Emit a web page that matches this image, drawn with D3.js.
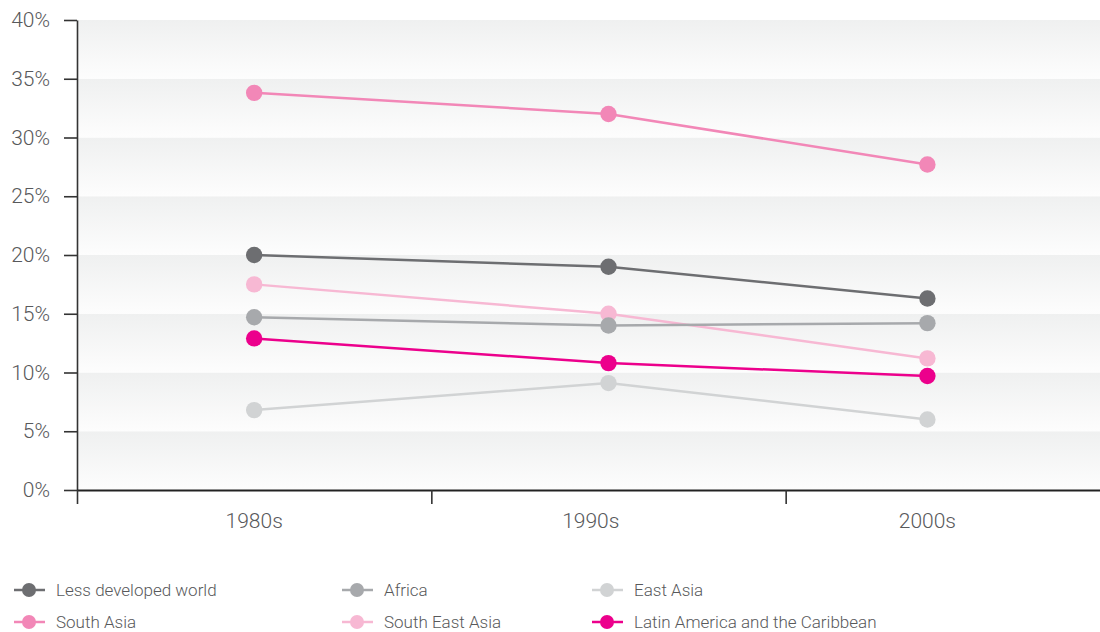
<!DOCTYPE html>
<html>
<head>
<meta charset="utf-8">
<script src="https://cdn.jsdelivr.net/npm/d3@7"></script>
<style>
  html, body { margin: 0; padding: 0; background: #fff; }
  svg { display: block; font-family: Roboto, "Liberation Sans", sans-serif; }
  .lbl { fill: #58595b; font-weight: 300; }
</style>
</head>
<body>
<svg id="chart" width="1100" height="632"></svg>
<script>
// Decades shown on the horizontal axis
const categories = ["1980s", "1990s", "2000s"];
// Year each decade's observation sits at, and where its label is centred
const decadeYear = [1985, 1995, 2004];
const labelYear = [1985, 1994.5, 2004];
// Boundary ticks between decades
const decadeTicks = [1980, 1990, 2000];
// Percentage ticks on the vertical axis
const yTicks = [0, 5, 10, 15, 20, 25, 30, 35, 40];

// Series names, colours and values (percent)
const seriesNames = ["Less developed world", "Africa", "East Asia", "South Asia", "South East Asia", "Latin America and the Caribbean"];
const seriesColors = ["#6d6e71", "#a7a9ac", "#d1d3d4", "#f287b7", "#f7b8d3", "#ec008c"];
const lessDeveloped = [20.0, 19.0, 16.3];
const africa = [14.7, 14.0, 14.2];
const eastAsia = [6.8, 9.1, 6.0];
const southAsia = [33.8, 32.0, 27.7];
const southEastAsia = [17.5, 15.0, 11.2];
const latinAmerica = [12.9, 10.8, 9.7];
const seriesValues = [lessDeveloped, africa, eastAsia, southAsia, southEastAsia, latinAmerica];
// Painting order, back to front
const drawOrder = [3, 4, 0, 1, 2, 5];

(function () {
  const svg = d3.select("#chart");
  const W = 1100;
  const plotLeft = 77, plotTop = 20, plotBottom = 490;

  const x = d3.scaleLinear().domain([1980, 2010]).range([plotLeft, 1140]);
  const y = d3.scaleLinear().domain([0, 40]).range([plotBottom, plotTop]);

  // Banded background: each 5% band fades from grey to near white
  const defs = svg.append("defs");
  const grad = defs.append("linearGradient").attr("id", "band")
    .attr("x1", 0).attr("y1", 0).attr("x2", 0).attr("y2", 1);
  grad.append("stop").attr("offset", "0%").attr("stop-color", "#eff0f0");
  grad.append("stop").attr("offset", "100%").attr("stop-color", "#fdfdfd");

  svg.append("g").selectAll("rect")
    .data(yTicks.slice(1))
    .join("rect")
    .attr("x", plotLeft)
    .attr("width", W - plotLeft)
    .attr("y", d => y(d))
    .attr("height", d => y(d - 5) - y(d))
    .attr("fill", "url(#band)");

  // Vertical axis
  const yAxis = svg.append("g")
    .attr("transform", `translate(${plotLeft},0)`)
    .call(d3.axisLeft(y).tickValues(yTicks).tickSize(13).tickSizeOuter(0).tickFormat(d => d + "%"));
  yAxis.select(".domain").attr("stroke", "#333").attr("stroke-width", 1.6);
  yAxis.selectAll(".tick line").attr("stroke", "#333").attr("stroke-width", 1.6);
  yAxis.selectAll(".tick text")
    .attr("class", "lbl")
    .attr("x", -27)
    .attr("font-size", 21);
  yAxis.attr("font-family", null).attr("font-size", null);

  // Horizontal axis
  const xAxis = svg.append("g")
    .attr("transform", `translate(0,${plotBottom})`)
    .call(d3.axisBottom(x).tickValues(decadeTicks).tickSize(14).tickSizeOuter(0).tickFormat(""));
  xAxis.select(".domain").attr("stroke", "#222").attr("stroke-width", 2);
  xAxis.selectAll(".tick line").attr("stroke", "#333").attr("stroke-width", 1.6);

  svg.append("g").selectAll("text")
    .data(categories)
    .join("text")
    .attr("class", "lbl")
    .attr("x", (d, i) => x(labelYear[i]))
    .attr("y", 528)
    .attr("text-anchor", "middle")
    .attr("font-size", 21)
    .text(d => d);

  // Series lines and markers
  const line = d3.line()
    .x((d, i) => x(decadeYear[i]))
    .y(d => y(d));

  const seriesG = svg.append("g");
  drawOrder.forEach(s => {
    const g = seriesG.append("g");
    g.append("path")
      .attr("d", line(seriesValues[s]))
      .attr("fill", "none")
      .attr("stroke", seriesColors[s])
      .attr("stroke-width", 2.5);
    g.selectAll("circle")
      .data(seriesValues[s])
      .join("circle")
      .attr("cx", (d, i) => x(decadeYear[i]))
      .attr("cy", d => y(d))
      .attr("r", 8.2)
      .attr("fill", seriesColors[s]);
  });

  // Legend: three columns, two rows
  const legendCols = [14, 342, 592];
  const legendRows = [590, 622];
  const legend = svg.append("g").selectAll("g")
    .data(seriesNames)
    .join("g")
    .attr("transform", (d, i) => `translate(${legendCols[i % 3]},${legendRows[Math.floor(i / 3)]})`);
  legend.append("line")
    .attr("x1", 0).attr("x2", 31)
    .attr("stroke", (d, i) => seriesColors[i])
    .attr("stroke-width", 2.5);
  legend.append("circle")
    .attr("cx", 15).attr("r", 7)
    .attr("fill", (d, i) => seriesColors[i]);
  legend.append("text")
    .attr("class", "lbl")
    .attr("x", 42)
    .attr("dy", "0.35em")
    .attr("font-size", 17)
    .text(d => d);
})();
</script>
</body>
</html>
